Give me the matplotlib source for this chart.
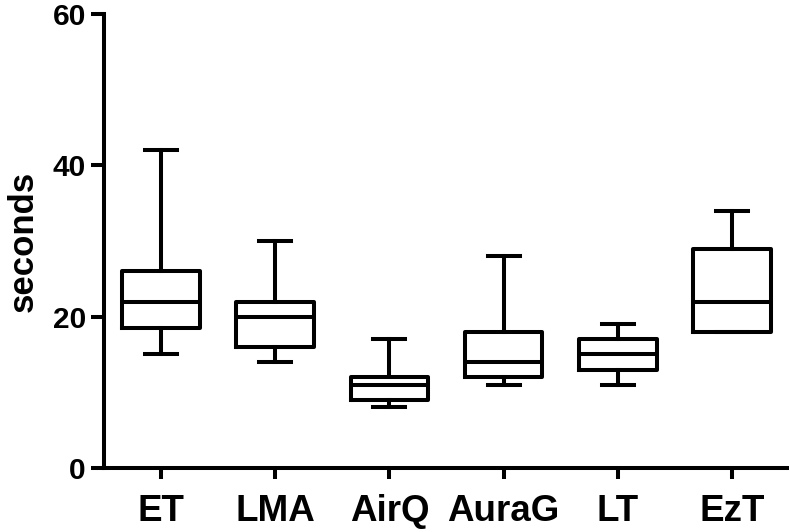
import matplotlib
matplotlib.use("Agg")
import matplotlib.pyplot as plt

categories = ["ET", "LMA", "AirQ", "AuraG", "LT", "EzT"]
whisker_low = [15, 14, 8, 11, 11, 18]
q1 = [18.5, 16, 9, 12, 13, 18]
median = [22, 20, 11, 14, 15, 22]
q3 = [26, 22, 12, 18, 17, 29]
whisker_high = [42, 30, 17, 28, 19, 34]
y_ticks = [0, 20, 40, 60]

plt.rcParams['font.family'] = ['Liberation Sans', 'DejaVu Sans']
plt.rcParams['font.weight'] = 'bold'

fig = plt.figure(figsize=(7.89, 5.30), dpi=100)
ax = fig.add_axes([0.1318, 0.117, 0.8682, 0.8566])

stats = []
for i, c in enumerate(categories):
    stats.append(dict(label=c, whislo=whisker_low[i], q1=q1[i], med=median[i],
                      q3=q3[i], whishi=whisker_high[i], fliers=[]))

lw = 2.9
ax.bxp(stats, positions=range(1, len(categories) + 1), widths=0.68,
       showfliers=False,
       boxprops=dict(color='black', linewidth=lw),
       medianprops=dict(color='black', linewidth=lw),
       whiskerprops=dict(color='black', linewidth=lw),
       capprops=dict(color='black', linewidth=lw),
       capwidths=0.28)

ax.set_xlim(0.5, 6.5)
ax.set_ylim(0, 60)
ax.set_yticks(y_ticks)
ax.set_yticklabels([str(t) for t in y_ticks], fontsize=21.5, fontweight='bold')
ax.set_xticks(range(1, len(categories) + 1))
ax.set_xticklabels(categories, fontsize=26.5, fontweight='bold')
ax.set_ylabel("seconds", fontsize=25, fontweight='bold', labelpad=9)

for s in ['top', 'right']:
    ax.spines[s].set_visible(False)
for s in ['left', 'bottom']:
    ax.spines[s].set_linewidth(lw)
    ax.spines[s].set_capstyle('projecting')

ax.tick_params(axis='y', length=9.5, width=lw, pad=3.5)
ax.tick_params(axis='x', length=8, width=lw, pad=11)

fig.savefig("out.png", dpi=100)
